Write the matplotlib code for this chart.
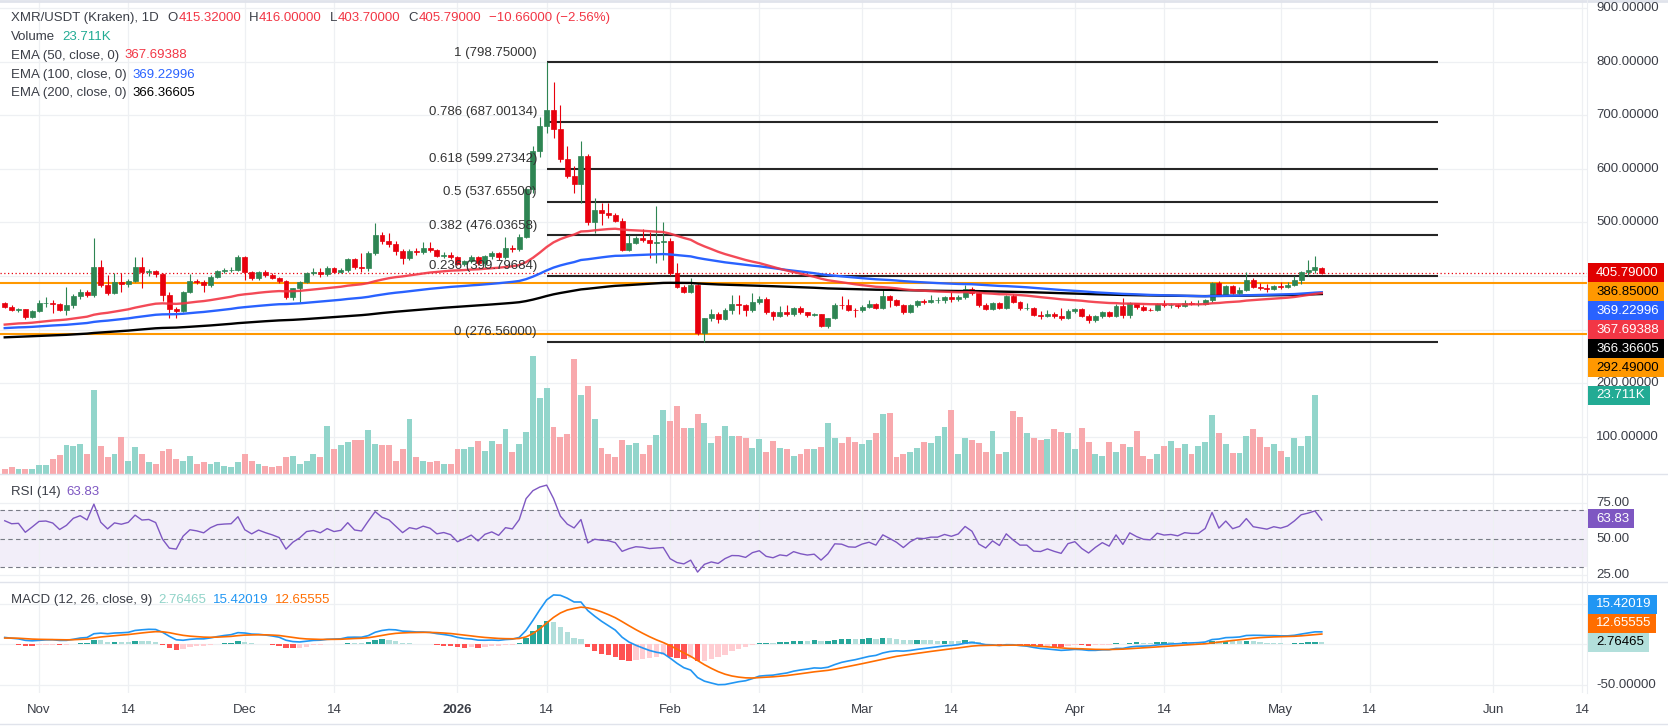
import numpy as np
import pandas as pd
import matplotlib
matplotlib.use('Agg')
import matplotlib.pyplot as plt
import matplotlib.dates as mdates
from matplotlib.patches import Rectangle
from matplotlib.lines import Line2D

plt.rcParams['font.family'] = ['Liberation Sans', 'DejaVu Sans']

# ---- data (daily candles XMR/USDT, Kraken) ----
start_day = '2025-10-27'

o = [349, 342, 337, 338, 323, 335, 349, 350, 347, 337, 346, 363, 370, 364, 417, 383, 368, 388, 385, 391,
     417, 407, 409, 403, 365, 338, 335, 370, 391, 388, 383, 399, 409, 411, 412, 435, 407, 397, 408, 402,
     397, 391, 361, 377, 388, 405, 408, 403, 414, 408, 411, 431, 417, 415, 442, 476, 465, 460, 447, 433,
     447, 444, 452, 448, 437, 440, 436, 422, 428, 435, 424, 437, 442, 436, 452, 450, 472, 562, 633, 680,
     710, 675, 618, 587, 571, 624, 500, 523, 517, 514, 503, 449, 462, 471, 468, 461, 463, 465, 405, 380,
     371, 383, 293, 321, 330, 319, 336, 347, 346, 337, 352, 358, 332, 325, 333, 329, 340, 332, 327, 329,
     307, 321, 346, 345, 337, 336, 343, 347, 340, 363, 355, 346, 333, 345, 353, 352, 355, 355, 360, 357,
     361, 375, 368, 346, 338, 350, 341, 363, 351, 340, 340, 327, 326, 330, 325, 321, 335, 338, 326, 317,
     325, 332, 326, 344, 327, 349, 342, 337, 336, 348, 345, 346, 344, 349, 348, 348, 355, 386, 365, 381,
     369, 374, 393, 380, 378, 376, 381, 379, 383, 393, 407, 411, 415.32]
h = [351, 345, 341, 339, 336, 355, 361, 355, 349, 379, 366, 375, 374, 470, 430, 402, 406, 406, 395, 436,
     436, 413, 411, 405, 370, 342, 372, 404, 395, 392, 401, 412, 415, 416, 440, 438, 410, 410, 411, 405,
     399, 393, 378, 390, 408, 414, 415, 418, 417, 414, 433, 433, 442, 447, 498, 483, 480, 466, 450, 450,
     452, 463, 463, 451, 445, 444, 438, 430, 440, 438, 440, 447, 445, 473, 458, 478, 565, 642, 696, 798.75,
     761, 719, 643, 605, 651, 627, 545, 536, 536, 518, 508, 476, 474, 487, 482, 531, 501, 470, 424, 384,
     396, 385, 322, 338, 333, 340, 364, 364, 348, 369, 362, 360, 334, 344, 345, 343, 344, 333, 331, 330,
     322, 349, 363, 357, 340, 345, 355, 349, 375, 365, 357, 348, 347, 356, 357, 364, 361, 362, 374, 364,
     383, 379, 371, 350, 352, 352, 365, 366, 354, 349, 342, 335, 337, 333, 340, 338, 341, 340, 329, 327,
     334, 335, 347, 359, 352, 350, 345, 341, 350, 355, 350, 348, 356, 353, 355, 358, 388, 390, 383, 383,
     380, 407, 397, 386, 385, 384, 389, 389, 400, 410, 430, 437, 416.0]
l = [340, 334, 333, 320, 321, 333, 343, 331, 335, 328, 340, 357, 360, 360, 379, 364, 366, 370, 380, 388,
     378, 400, 398, 353, 321, 321, 333, 368, 385, 370, 380, 396, 406, 407, 410, 392, 392, 393, 398, 394,
     387, 358, 355, 352, 386, 402, 398, 400, 405, 405, 408, 413, 407, 410, 440, 460, 455, 440, 422, 430,
     439, 441, 445, 435, 434, 432, 420, 418, 425, 420, 414, 432, 430, 432, 445, 447, 470, 555, 622, 666,
     657, 612, 582, 555, 537, 496, 481, 496, 509, 501, 447, 446, 459, 464, 433, 424, 430, 402, 377, 369,
     368, 289, 276.56, 316, 312, 317, 330, 330, 326, 332, 348, 330, 318, 324, 326, 326, 329, 324, 325, 305,
     303, 319, 338, 335, 324, 333, 340, 338, 338, 342, 344, 330, 331, 343, 348, 349, 349, 350, 352, 354,
     358, 364, 343, 336, 336, 339, 339, 349, 337, 336, 325, 319, 324, 322, 318, 319, 331, 323, 312, 315,
     322, 323, 324, 321, 321, 338, 334, 334, 334, 343, 341, 340, 342, 345, 344, 346, 352, 362, 362, 367,
     367, 372, 377, 374, 371, 374, 375, 377, 381, 385, 400, 405, 403.7]
c = [342, 337, 338, 323, 335, 349, 350, 347, 337, 346, 363, 370, 364, 417, 383, 368, 388, 385, 391, 417,
     407, 409, 403, 365, 338, 335, 370, 391, 388, 383, 399, 409, 411, 412, 435, 407, 397, 408, 402, 397,
     391, 361, 377, 388, 405, 408, 403, 414, 408, 411, 431, 417, 415, 442, 476, 465, 460, 447, 433, 447,
     444, 452, 448, 437, 440, 436, 422, 428, 435, 424, 437, 442, 436, 452, 450, 472, 562, 633, 680, 710,
     675, 618, 587, 571, 624, 500, 523, 517, 514, 503, 449, 462, 471, 468, 461, 463, 465, 405, 380, 371,
     383, 293, 321, 330, 319, 336, 347, 346, 337, 352, 358, 332, 325, 333, 329, 340, 332, 327, 329, 307,
     321, 346, 345, 337, 336, 343, 347, 340, 363, 355, 346, 333, 345, 353, 352, 355, 355, 360, 357, 361,
     375, 368, 346, 338, 350, 341, 363, 351, 340, 340, 327, 326, 330, 325, 321, 335, 338, 326, 317, 325,
     332, 326, 344, 327, 349, 342, 337, 336, 348, 345, 346, 344, 349, 348, 348, 355, 386, 365, 381, 369,
     374, 393, 380, 378, 376, 381, 379, 383, 393, 407, 411, 416.45, 405.79]
# volume in thousands (the current candle has no bar yet)
vol = [1.4, 2.0, 1.4, 1.4, 1.4, 2.7, 2.7, 4.4, 5.7, 8.7,
       8.4, 9.0, 6.0, 25.2, 8.4, 5.0, 6.0, 11.0, 4.0, 8.0,
       6.0, 3.5, 3.0, 7.0, 7.5, 4.5, 4.0, 5.5, 3.0, 3.5,
       3.0, 3.5, 2.5, 2.0, 3.5, 6.0, 4.0, 3.0, 2.5, 2.0,
       2.5, 5.0, 5.5, 3.0, 4.0, 6.0, 5.0, 14.4, 7.5, 8.7,
       9.5, 10.2, 10.2, 13.2, 9.0, 8.7, 8.7, 4.0, 7.5, 16.5,
       5.0, 4.0, 3.5, 4.0, 3.0, 3.0, 7.5, 7.5, 8.0, 9.8,
       7.0, 10.0, 9.0, 13.5, 6.5, 9.0, 12.7, 35.4, 22.9, 25.9,
       14.2, 11.2, 12.0, 34.5, 23.7, 26.4, 16.5, 7.8, 6.0, 5.0,
       10.2, 8.7, 9.3, 6.0, 8.7, 11.7, 19.2, 15.9, 20.4, 13.8,
       13.8, 18.0, 15.3, 9.3, 11.4, 14.4, 11.4, 11.4, 10.8, 7.8,
       10.5, 6.5, 9.9, 7.8, 7.5, 5.5, 6.0, 7.5, 7.5, 8.0,
       15.3, 10.8, 9.3, 11.1, 9.6, 9.0, 10.2, 12.3, 18.0, 18.3,
       5.0, 6.0, 6.5, 7.8, 9.6, 9.3, 11.4, 14.1, 19.2, 6.0,
       10.8, 10.2, 9.3, 6.5, 12.9, 6.0, 6.5, 18.9, 17.1, 12.3,
       10.8, 10.2, 10.5, 13.5, 12.6, 12.3, 7.5, 13.8, 9.6, 6.0,
       5.5, 9.6, 6.5, 9.0, 8.1, 12.9, 5.5, 4.5, 6.0, 8.4,
       9.9, 7.8, 9.0, 6.0, 8.4, 9.6, 17.7, 12.3, 9.0, 6.4,
       6.4, 11.4, 13.5, 11.2, 8.1, 9.0, 7.0, 5.1, 10.8, 8.4,
       11.4, 23.711]

# indicator starting states (value carried in from before the visible window)
ema50_seed, ema100_seed, ema200_seed = 308.0, 302.0, 285.0
ema12_seed, ema26_seed, signal_seed = 341.0, 332.0, 7.5
rsi_gain_seed, rsi_loss_seed = 7.0, 4.2

# values printed on the chart
ema50_last, ema100_last, ema200_last = 367.69388, 369.22996, 366.36605
rsi_last = 63.83
macd_last, signal_last, hist_last = 15.42019, 12.65555, 2.76465

support_levels = [386.85, 292.49]
fib_ratios = [1, 0.786, 0.618, 0.5, 0.382, 0.236, 0]
fib_start, fib_end = '2026-01-14', '2026-05-24'

x_ticks = ['2025-11-01', '2025-11-14', '2025-12-01', '2025-12-14', '2026-01-01', '2026-01-14',
           '2026-02-01', '2026-02-14', '2026-03-01', '2026-03-14', '2026-04-01', '2026-04-14',
           '2026-05-01', '2026-05-14', '2026-06-01', '2026-06-14']
x_labels = ['Nov', '14', 'Dec', '14', '2026', '14', 'Feb', '14', 'Mar', '14', 'Apr', '14',
            'May', '14', 'Jun', '14']
price_ticks = [100, 200, 300, 400, 500, 600, 700, 800, 900]

# ---- colours ----
GREEN, RED = '#2e8553', '#e8000d'
VOL_UP, VOL_DN = '#92d5cb', '#f8a9ad'
EMA50_C, EMA100_C, EMA200_C = '#f23645', '#2962ff', '#000000'
ORANGE = '#ff9800'
GRID = '#eef0f3'
TXT = '#3b3e47'
PURPLE = '#7e57c2'


def ema(values, span, seed):
    a = 2.0 / (span + 1)
    out, prev = [], seed
    for v in values:
        prev = prev + a * (v - prev)
        out.append(prev)
    return np.array(out)


def rsi(values, g, lo, n=14):
    out = [100 - 100 / (1 + g / lo)]
    for prev, cur in zip(values[:-1], values[1:]):
        d = cur - prev
        g = (g * (n - 1) + max(d, 0)) / n
        lo = (lo * (n - 1) + max(-d, 0)) / n
        out.append(100 - 100 / (1 + g / lo))
    return np.array(out)


W, H = 1668, 726
FS = 9.5


def frect(x0, y0, x1, y1):
    return [x0 / W, 1 - y1 / H, (x1 - x0) / W, (y1 - y0) / H]


o_a, h_a, l_a, c_a = map(np.array, (o, h, l, c))
days = pd.date_range(start_day, periods=len(c), freq='D')
x = mdates.date2num(days.to_pydatetime())
nov1 = mdates.date2num(pd.Timestamp('2025-11-01').to_pydatetime())
tick_x = mdates.date2num(pd.to_datetime(x_ticks).to_pydatetime())

ema50 = ema(c_a, 50, ema50_seed)
ema100 = ema(c_a, 100, ema100_seed)
ema200 = ema(c_a, 200, ema200_seed)
rsi_v = rsi(c, rsi_gain_seed, rsi_loss_seed)
macd = ema(c_a, 12, ema12_seed) - ema(c_a, 26, ema26_seed)
signal = ema(macd, 9, signal_seed)
hist = macd - signal

fig = plt.figure(figsize=(W / 100, H / 100), dpi=100)
fig.patch.set_facecolor('white')

ax = fig.add_axes(frect(0, 0, 1587, 474))
axv = fig.add_axes(frect(0, 0, 1587, 474), sharex=ax)
axr = fig.add_axes(frect(0, 474, 1587, 582), sharex=ax)
axm = fig.add_axes(frect(0, 582, 1587, 693), sharex=ax)
axv.patch.set_visible(False)

for a in (ax, axv, axr, axm):
    for s in a.spines.values():
        s.set_visible(False)
    a.tick_params(length=0, labelleft=False, labelbottom=False)
    a.set_xticks(tick_x)

ax.set_xlim(nov1 - 5.69, nov1 + 225.66)

# ---- price panel ----
ax.set_ylim(30.6, 914.9)
ax.set_yticks(price_ticks)
ax.grid(True, color=GRID, lw=0.9, zorder=0)
ax.set_axisbelow(True)

up = c_a >= o_a
cols = np.where(up, GREEN, RED)
ax.vlines(x, l_a, h_a, colors=cols, lw=0.8, zorder=3)
ax.bar(x, c_a - o_a, bottom=o_a, width=0.72, color=cols, edgecolor=cols, linewidth=0.5, zorder=4)

ax.plot(x, ema200, color=EMA200_C, lw=1.7, zorder=5)
ax.plot(x, ema100, color=EMA100_C, lw=1.7, zorder=5)
ax.plot(x, ema50, color=EMA50_C, lw=1.7, zorder=5, alpha=0.9)

for lvl in support_levels:
    ax.axhline(lvl, color=ORANGE, lw=1.5, zorder=2)
ax.axhline(c[-1], color=RED, lw=0.9, ls=(0, (1, 2)), zorder=2)

fib_hi, fib_lo = max(h), min(l)
fs_x = mdates.date2num(pd.Timestamp(fib_start).to_pydatetime())
fe_x = mdates.date2num(pd.Timestamp(fib_end).to_pydatetime())
for r in fib_ratios:
    lvl = fib_lo + r * (fib_hi - fib_lo)
    ax.hlines(lvl, fs_x, fe_x, color='#262626', lw=1.5, zorder=2)
    ax.annotate(f'{r:g} ({lvl:.5f})', xy=(fs_x, lvl), xytext=(-7, 7), textcoords='offset points',
                ha='right', va='center', fontsize=FS, color='#333333', zorder=6)

# volume overlay
axv.set_ylim(0, 142.3)
axv.set_yticks([])
vcols = np.where(up[:len(vol)], VOL_UP, VOL_DN)
axv.bar(x[:len(vol)], vol, width=0.86, color=vcols, zorder=1)

# ---- RSI panel ----
axr.set_ylim(19.8, 95.1)
axr.set_yticks([25, 50, 75])
axr.grid(True, color=GRID, lw=0.9)
axr.set_axisbelow(True)
axr.axhspan(30, 70, color='#f2eef9', lw=0, zorder=0)
for lvl in (70, 50, 30):
    axr.axhline(lvl, color='#787b86', lw=0.8, ls=(0, (4, 3)), zorder=1)
axr.plot(x, rsi_v, color=PURPLE, lw=1.0, zorder=3)

# ---- MACD panel ----
axm.set_ylim(-59.9, 76.6)
axm.set_yticks([-50, 0, 50])
axm.grid(True, color=GRID, lw=0.9)
axm.set_axisbelow(True)
prev_hist = np.concatenate([[hist[0]], hist[:-1]])
hcols = np.where(hist >= 0, np.where(hist >= prev_hist, '#26a69a', '#b2dfdb'),
                 np.where(hist < prev_hist, '#ff5252', '#ffcdd2'))
axm.bar(x, hist, width=0.78, color=hcols, zorder=2)
axm.plot(x, macd, color='#2196f3', lw=1.2, zorder=3)
axm.plot(x, signal, color='#ff6d00', lw=1.2, zorder=3)

axm.tick_params(axis='x', labelbottom=True, pad=8, labelsize=FS, colors=TXT)
axm.set_xticklabels(x_labels)
for t in axm.get_xticklabels():
    if t.get_text() == '2026':
        t.set_fontweight('bold')

# panel separators / borders
for yy, lw_ in ((474, 1.0), (582, 1.0), (1, 2.0), (724, 1.0)):
    fig.add_artist(Line2D([0, 1], [1 - yy / H] * 2, color='#e0e3eb', lw=lw_, transform=fig.transFigure))
fig.add_artist(Line2D([1587 / W] * 2, [1 - 693 / H, 1], color='#eceef2', lw=0.8, transform=fig.transFigure))

renderer = fig.canvas.get_renderer()


def text_px(xp, yp, s, color=TXT, weight='normal', z=5):
    t = fig.text(xp / W, 1 - yp / H, s, fontsize=FS, color=color, fontweight=weight,
                 ha='left', va='center', zorder=z)
    return t.get_window_extent(renderer).width


def line_px(xp, yp, pieces, gap=7):
    # pieces: list of (text, colour, space_after_in_px)
    for s, col, after in pieces:
        xp += text_px(xp, yp, s, col) + after
    return xp


def y_px(a, v):
    return H - a.transData.transform((ax.get_xlim()[0], v))[1]


def tag(yp, s, bg, fg):
    w = text_px(1596, yp, s, fg, z=6)
    fig.add_artist(Rectangle((1588 / W, 1 - (yp + 9.5) / H), (w + 13) / W, 19 / H,
                             transform=fig.transFigure, facecolor=bg, edgecolor='none', zorder=5))


def stack(items, a, downward=True):
    items = sorted(items, key=lambda t: -t[0] if downward else t[0])
    out, prev = [], None
    for v, s, bg, fg in items:
        yp = y_px(a, v)
        if prev is not None:
            yp = max(yp, prev + 19) if downward else min(yp, prev - 19)
        out.append((yp, s, bg, fg))
        prev = yp
    return out


def axis_labels(a, ticks, fmt, tag_ys):
    for v in ticks:
        yp = y_px(a, v)
        if all(abs(yp - ty) >= 12 for ty in tag_ys):
            text_px(1596, yp, fmt.format(v), TXT, z=3)


# ---- header / legends ----
chg = c[-1] - c[-2]
line_px(10.7, 17.7, [('XMR/USDT (Kraken), 1D', TXT, 9),
                     ('O', TXT, 0.5), (f'{o[-1]:.5f}', EMA50_C, 8),
                     ('H', TXT, 0.5), (f'{h[-1]:.5f}', EMA50_C, 8),
                     ('L', TXT, 0.5), (f'{l[-1]:.5f}', EMA50_C, 8),
                     ('C', TXT, 0.5), (f'{c[-1]:.5f}', EMA50_C, 8),
                     (f'{chg:.5f} ({chg / c[-2] * 100:.2f}%)'.replace('-', '\u2212'), EMA50_C, 0)])
line_px(10.7, 36.7, [('Volume', TXT, 7), (f'{vol[-1]:.3f}K', '#22ab94', 0)])
line_px(10.7, 55.5, [('EMA (50, close, 0)', TXT, 6), (f'{ema50_last:.5f}', EMA50_C, 0)])
line_px(10.7, 74.7, [('EMA (100, close, 0)', TXT, 6), (f'{ema100_last:.5f}', EMA100_C, 0)])
line_px(10.7, 93.3, [('EMA (200, close, 0)', TXT, 6), (f'{ema200_last:.5f}', '#000000', 0)])

line_px(10.7, 491.7, [('RSI (14)', TXT, 6), (f'{rsi_last:.2f}', PURPLE, 0)])
line_px(10.7, 600, [('MACD (12, 26, close, 9)', TXT, 6), (f'{hist_last:.5f}', '#8fd3c8', 7),
                    (f'{macd_last:.5f}', '#2196f3', 7), (f'{signal_last:.5f}', '#ff6d00', 0)])

# ---- right scale tags ----
ptags = stack([(c[-1], f'{c[-1]:.5f}', '#e00000', 'white'),
               (support_levels[0], f'{support_levels[0]:.5f}', ORANGE, 'black'),
               (ema100_last, f'{ema100_last:.5f}', EMA100_C, 'white'),
               (ema50_last, f'{ema50_last:.5f}', EMA50_C, 'white'),
               (ema200_last, f'{ema200_last:.5f}', '#000000', 'white'),
               (support_levels[1], f'{support_levels[1]:.5f}', ORANGE, 'black')], ax, downward=True)
vy = y_px(axv, vol[-1])
axis_labels(ax, price_ticks[::-1], '{:.5f}', [p[0] for p in ptags])
for p in ptags:
    tag(*p)
tag(vy, f'{vol[-1]:.3f}K', '#22ab94', 'white')

ry = y_px(axr, rsi_last)
axis_labels(axr, [75, 50, 25], '{:.2f}', [ry])
tag(ry, f'{rsi_last:.2f}', PURPLE, 'white')

mtags = stack([(hist_last, f'{hist_last:.5f}', '#b2dfdb', 'black'),
               (signal_last, f'{signal_last:.5f}', '#ff6d00', 'white'),
               (macd_last, f'{macd_last:.5f}', '#2196f3', 'white')], axm, downward=False)
axis_labels(axm, [50, 0, -50], '{:.5f}', [m[0] for m in mtags])
for m in mtags:
    tag(*m)

fig.savefig('out.png', dpi=100)
